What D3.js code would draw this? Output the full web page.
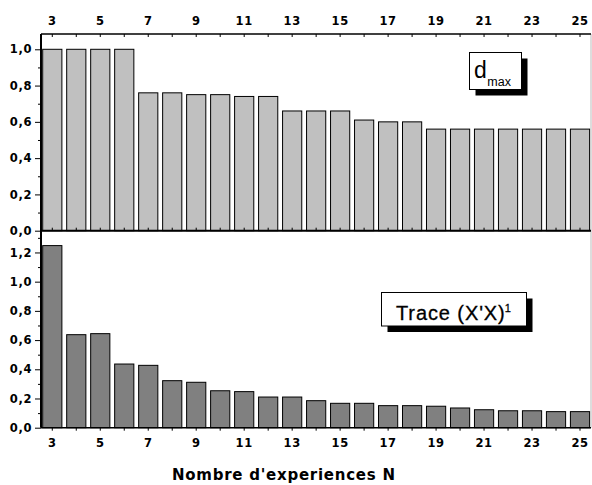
<!DOCTYPE html>
<html><head><meta charset="utf-8">
<script src="https://cdn.jsdelivr.net/npm/d3@7"></script>
<style>body{margin:0;background:#fff;} svg{display:block;}</style>
</head><body>
<svg id="c" width="592" height="485"></svg>
<script>
const categories = [3,4,5,6,7,8,9,10,11,12,13,14,15,16,17,18,19,20,21,22,23,24,25];
const dmaxValues = [1.0,1.0,1.0,1.0,0.76,0.76,0.75,0.75,0.74,0.74,0.66,0.66,0.66,0.61,0.60,0.60,0.56,0.56,0.56,0.56,0.56,0.56,0.56];
const traceValues = [1.247,0.637,0.644,0.436,0.427,0.322,0.311,0.253,0.247,0.210,0.210,0.185,0.167,0.167,0.151,0.151,0.147,0.135,0.123,0.116,0.116,0.110,0.110];
const xTickLabels = [3,5,7,9,11,13,15,17,19,21,23,25];
const topYTicks = [0,0.2,0.4,0.6,0.8,1.0];
const bottomYTicks = [0,0.2,0.4,0.6,0.8,1.0,1.2];
const xTitle = "Nombre d'experiences N";

const svg = d3.select("#c");
const L = 41, R = 591, T = 34, M = 230.7, B = 427.7;
const fmt = d => d3.format(".1f")(d).replace(".", ",");
const tickFont = "'DejaVu Sans', sans-serif";

const x = d3.scaleBand().domain(categories).range([40.3, 592]).paddingInner(0.2).paddingOuter(0.1);
const yTop = d3.scaleLinear().domain([0, 1.0843]).range([M, T]);
const yBot = d3.scaleLinear().domain([0, 1.349]).range([B, M]);

// bars
svg.append("g").selectAll("rect").data(categories).join("rect")
  .attr("x", d => x(d)).attr("width", x.bandwidth())
  .attr("y", (d,i) => yTop(dmaxValues[i])).attr("height", (d,i) => M - yTop(dmaxValues[i]))
  .attr("fill", "#c0c0c0").attr("stroke", "#000").attr("stroke-width", 1);
svg.append("g").selectAll("rect").data(categories).join("rect")
  .attr("x", d => x(d)).attr("width", x.bandwidth())
  .attr("y", (d,i) => yBot(traceValues[i])).attr("height", (d,i) => B - yBot(traceValues[i]))
  .attr("fill", "#808080").attr("stroke", "#000").attr("stroke-width", 1);

// right frame line
svg.append("line").attr("x1", R).attr("x2", R).attr("y1", T).attr("y2", B).attr("stroke", "#bbb").attr("stroke-width", 1);

function styleAxis(g, fontSize) {
  g.selectAll("text").attr("font-family", tickFont).attr("font-weight", "bold").attr("font-size", fontSize)
    .attr("letter-spacing", "0.6px").attr("fill", "#000");
  g.selectAll("line").attr("stroke", "#000");
}

// top x axis
const gxTop = svg.append("g").attr("transform", `translate(0,${T})`)
  .call(d3.axisTop(x).tickSize(-3).tickSizeOuter(0).tickFormat(d => xTickLabels.includes(d) ? d : ""));
gxTop.select(".domain").remove();
gxTop.selectAll("text").attr("y", -9);
styleAxis(gxTop, "11.5px");

// bottom x axis
const gxBot = svg.append("g").attr("transform", `translate(0,${B})`)
  .call(d3.axisBottom(x).tickSize(3).tickSizeOuter(0).tickFormat(d => xTickLabels.includes(d) ? d : ""));
gxBot.select(".domain").remove();
gxBot.selectAll("text").attr("y", 11);
styleAxis(gxBot, "11.5px");

// middle ticks
const gxMid = svg.append("g").attr("transform", `translate(0,${M})`)
  .call(d3.axisTop(x).tickSize(3).tickSizeOuter(0).tickFormat(""));
gxMid.select(".domain").remove();
styleAxis(gxMid, "11px");

// left y axes
function leftAxis(scale, majors, maxV) {
  const minors = d3.range(0.1, maxV, 0.2).map(v => +v.toFixed(2));
  const gm = svg.append("g").attr("transform", `translate(${L},0)`)
    .call(d3.axisLeft(scale).tickValues(minors).tickSize(3).tickFormat(""));
  gm.select(".domain").remove(); styleAxis(gm, "11px");
  const g = svg.append("g").attr("transform", `translate(${L},0)`)
    .call(d3.axisLeft(scale).tickValues(majors).tickSize(6).tickPadding(3).tickFormat(fmt));
  g.select(".domain").remove(); styleAxis(g, "11.5px");
}
leftAxis(yTop, topYTicks, 1.08);
leftAxis(yBot, bottomYTicks, 1.34);

// frame lines
svg.append("line").attr("x1", L).attr("x2", L).attr("y1", T).attr("y2", B).attr("stroke", "#000").attr("stroke-width", 2);
svg.append("line").attr("x1", L).attr("x2", 591).attr("y1", T).attr("y2", T).attr("stroke", "#000").attr("stroke-width", 1.5);
svg.append("line").attr("x1", L).attr("x2", 591).attr("y1", M).attr("y2", M).attr("stroke", "#000").attr("stroke-width", 2);
svg.append("line").attr("x1", L).attr("x2", 591).attr("y1", B).attr("y2", B).attr("stroke", "#000").attr("stroke-width", 1.5);

// legend boxes
function box(x0, y0, w, h) {
  svg.append("rect").attr("x", x0 + 6).attr("y", y0 + 6).attr("width", w).attr("height", h).attr("fill", "#000");
  svg.append("rect").attr("x", x0).attr("y", y0).attr("width", w).attr("height", h).attr("fill", "#fff").attr("stroke", "#000").attr("stroke-width", 1);
}
box(469.5, 52.5, 52, 37);
const dt = svg.append("text").attr("x", 474).attr("y", 77.5).attr("font-family", "'Liberation Sans', Arial, sans-serif").attr("fill", "#000");
dt.append("tspan").attr("font-size", "23px").text("d");
dt.append("tspan").attr("font-size", "12.5px").attr("dy", 8).attr("dx", 0.5).text("max");

box(381.5, 292.5, 145, 33.5);
const tt = svg.append("text").attr("x", 396).attr("y", 320).attr("font-family", "'Liberation Sans', Arial, sans-serif")
  .attr("font-size", "20px").attr("letter-spacing", "0.9px").attr("stroke", "#000").attr("stroke-width", 0.3).attr("fill", "#000");
tt.append("tspan").text("Trace (X'X)");
tt.append("tspan").attr("font-size", "11px").attr("dy", -8).attr("dx", -1).text("1");

// x title
svg.append("text").attr("x", 172).attr("y", 480).attr("font-family", tickFont).attr("font-weight", "bold")
  .attr("font-size", "15px").attr("textLength", 223).attr("lengthAdjust", "spacing").attr("fill", "#000").text(xTitle);
</script>
</body></html>
